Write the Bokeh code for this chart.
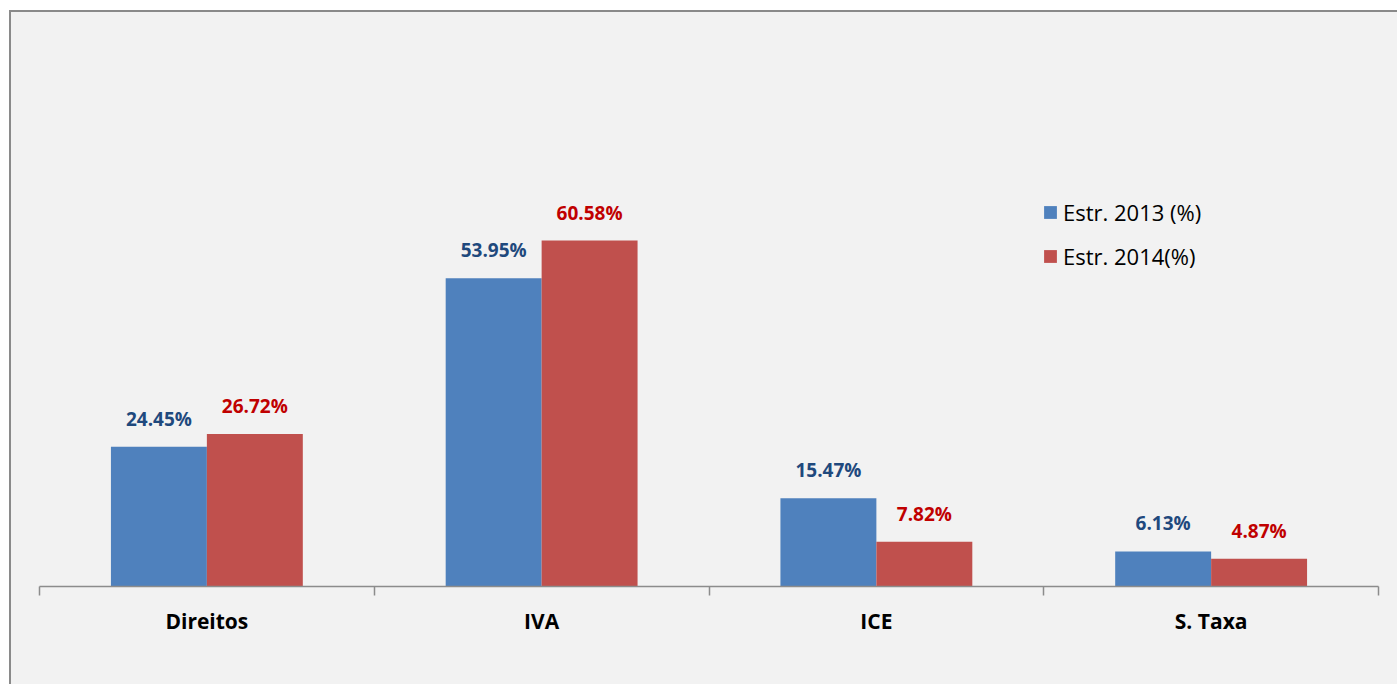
from bokeh.plotting import figure
from bokeh.models import ColumnDataSource, FixedTicker, LinearAxis, Range1d, Legend, LegendItem
from bokeh.core.properties import value
from bokeh.embed import file_html
from bokeh.resources import INLINE

categories = ["Direitos", "IVA", "ICE", "S. Taxa"]
series_names = ["Estr. 2013 (%)", "Estr. 2014(%)"]
estr_2013 = [24.45, 53.95, 15.47, 6.13]
estr_2014 = [26.72, 60.58, 7.82, 4.87]

bar_colors = ["#4F81BD", "#C0504D"]
label_colors = ["#1F497D", "#C00000"]
FONT = "Open Sans"

W, H = 1397, 684
p = figure(width=W, height=H, output_backend="svg", toolbar_location=None,
           x_range=Range1d(0, len(categories)), y_range=Range1d(0, 97.35),
           x_axis_location=None, y_axis_location=None,
           min_border_left=39, min_border_right=19, min_border_top=30, min_border_bottom=98)
p.border_fill_color = None
p.background_fill_color = None
p.outline_line_color = None
p.grid.visible = False
p.styles = {
    "background": ("linear-gradient(#8A8A8A, #8A8A8A) 9px 10px / 2px 100% no-repeat, "
                   "linear-gradient(#8A8A8A, #8A8A8A) 9px 10px / 100% 2px no-repeat, "
                   "linear-gradient(#F2F2F2, #F2F2F2) 9px 10px / 100% 100% no-repeat, "
                   "#FFFFFF"),
}

half = 0.1433
width = 0.2866
renderers = []
for k, (vals, col, lcol) in enumerate(zip([estr_2013, estr_2014], bar_colors, label_colors)):
    offset = -half if k == 0 else half
    xs = [i + 0.5 + offset for i in range(len(categories))]
    src = ColumnDataSource(dict(x=xs, top=vals, label=[f"{v:.2f}%" for v in vals]))
    r = p.vbar(x="x", top="top", bottom=0, width=width, source=src,
               fill_color=col, line_color=None)
    renderers.append(r)
    p.text(x="x", y="top", text="label", source=src, text_align="center",
           text_baseline="alphabetic", y_offset=-28, text_color=lcol,
           text_font=value(FONT), text_font_style="bold", text_font_size="19px")

ticker = FixedTicker(ticks=[i + 0.5 for i in range(len(categories))],
                     minor_ticks=list(range(len(categories) + 1)))
xaxis = LinearAxis(ticker=ticker)
xaxis.major_label_overrides = {i + 0.5: c for i, c in enumerate(categories)}
xaxis.axis_line_color = "#8C8C8C"
xaxis.axis_line_width = 1.5
xaxis.major_tick_line_color = None
xaxis.major_tick_out = 0
xaxis.major_tick_in = 0
xaxis.minor_tick_line_color = "#8C8C8C"
xaxis.minor_tick_line_width = 1.5
xaxis.minor_tick_out = 9
xaxis.minor_tick_in = 0
xaxis.major_label_standoff = 11
xaxis.major_label_text_font = FONT
xaxis.major_label_text_font_style = "bold"
xaxis.major_label_text_font_size = "21px"
xaxis.major_label_text_color = "black"
p.add_layout(xaxis, "below")

legend = Legend(items=[LegendItem(label=n, renderers=[r]) for n, r in zip(series_names, renderers)],
                location=(1003, 315), padding=0, margin=0, spacing=14,
                glyph_width=16, glyph_height=16, label_standoff=5,
                label_text_font=FONT, label_text_font_size="22px", label_text_color="black",
                background_fill_alpha=0, border_line_color=None)
p.add_layout(legend)

open("out.html", "w").write(file_html(p, INLINE))
